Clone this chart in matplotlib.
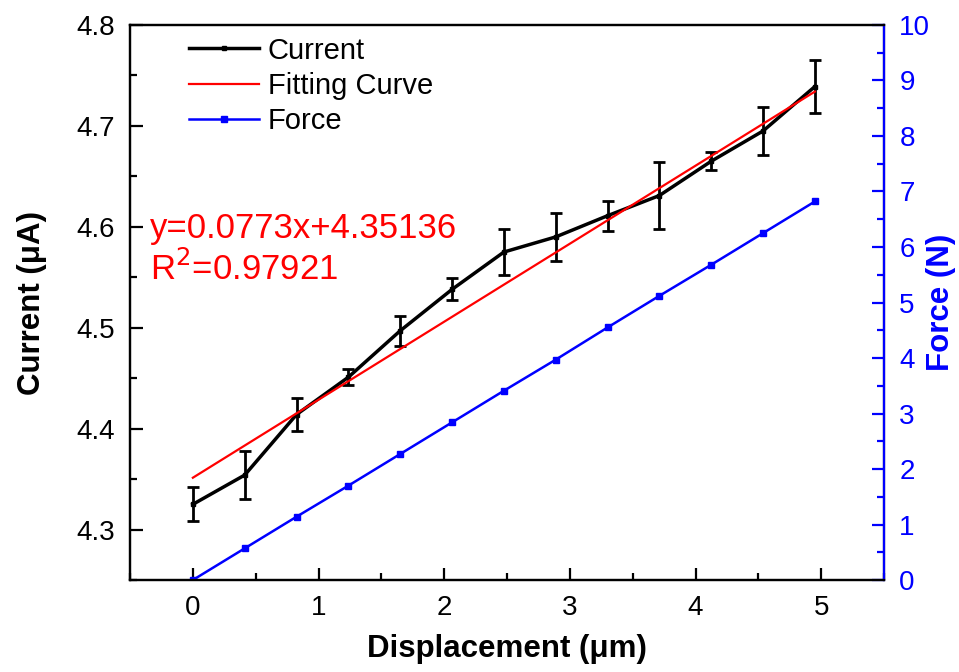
import numpy as np
import matplotlib as mpl
import matplotlib.pyplot as plt
from matplotlib.lines import Line2D
from matplotlib.ticker import MultipleLocator

mpl.rcParams['font.family'] = ['Liberation Sans', 'DejaVu Sans']

# Displacement steps (um)
disp = [0, 0.4125, 0.825, 1.2375, 1.65, 2.0625, 2.475, 2.8875, 3.3, 3.7125, 4.125, 4.5375, 4.95]
# Measured current (uA) and its spread
current = [4.325, 4.354, 4.414, 4.451, 4.497, 4.538, 4.575, 4.590, 4.611, 4.631, 4.665, 4.695, 4.739]
current_err = [0.017, 0.024, 0.016, 0.008, 0.015, 0.011, 0.023, 0.024, 0.015, 0.033, 0.009, 0.024, 0.026]
# Applied force (N)
force = [0, 0.57, 1.14, 1.70, 2.27, 2.84, 3.41, 3.97, 4.55, 5.12, 5.68, 6.25, 6.82]

slope, intercept = 0.0773, 4.35136
r2 = 0.97921

BLUE = '#0000ff'
RED = '#ff0000'

fig = plt.figure(figsize=(9.59, 6.72), dpi=100)
ax = fig.add_axes([0.1356, 0.1369, 0.7862, 0.8259])
ax2 = ax.twinx()

ax.errorbar(disp, current, yerr=current_err, color='k', lw=2.5, marker='s', ms=3.5,
            capsize=4.5, capthick=2, elinewidth=2, zorder=3)
xfit = np.array([disp[0], disp[-1]])
ax.plot(xfit, slope * xfit + intercept, color=RED, lw=1.6, zorder=4)
ax2.plot(disp, force, color=BLUE, lw=1.8, marker='s', ms=5)

ax.set_xlim(-0.5, 5.5)
ax.set_ylim(4.25, 4.8)
ax2.set_ylim(0, 10)

ax.xaxis.set_major_locator(MultipleLocator(1))
ax.xaxis.set_minor_locator(MultipleLocator(0.5))
ax.yaxis.set_major_locator(MultipleLocator(0.1))
ax.yaxis.set_minor_locator(MultipleLocator(0.05))
ax2.yaxis.set_major_locator(MultipleLocator(1))
ax2.yaxis.set_minor_locator(MultipleLocator(0.5))

ax.tick_params(axis='both', which='major', direction='in', length=9, width=1.6, labelsize=20, pad=11)
ax.tick_params(axis='both', which='minor', direction='in', length=5, width=1.6)
ax2.tick_params(axis='y', which='major', direction='in', length=9, width=1.6, labelsize=20,
                colors=BLUE, pad=11)
ax2.tick_params(axis='y', which='minor', direction='in', length=5, width=1.6, colors=BLUE)

for sp in list(ax.spines.values()) + list(ax2.spines.values()):
    sp.set_linewidth(1.6)
ax2.spines['right'].set_color(BLUE)

ax.set_yticklabels([f'{v:.1f}' for v in ax.get_yticks()])
ax.set_xlabel('Displacement (\u03bcm)', fontsize=22.5, fontweight='bold', labelpad=9)
ax.set_ylabel('Current (\u03bcA)', fontsize=22.5, fontweight='bold', labelpad=21)
ax2.set_ylabel('Force (N)', fontsize=22.5, fontweight='bold', color=BLUE, labelpad=-3)

ax.text(0.0265, 0.616, f'y={slope}x+{intercept}', transform=ax.transAxes, color=RED,
        fontsize=25, va='baseline')
ax.text(0.0265, 0.5405, f'R$^2$={r2}', transform=ax.transAxes, color=RED,
        fontsize=25, va='baseline')

handles = [Line2D([], [], color='k', lw=2.5, marker='s', ms=3.5),
           Line2D([], [], color=RED, lw=1.6),
           Line2D([], [], color=BLUE, lw=1.8, marker='s', ms=5)]
ax.legend(handles, ['Current', 'Fitting Curve', 'Force'], loc='upper left',
          bbox_to_anchor=(0.063, 1.0), frameon=False, fontsize=21, handlelength=2.4,
          handletextpad=0.3, labelspacing=0.25, borderaxespad=0.2, borderpad=0.2)

fig.savefig('out.png', dpi=100)
